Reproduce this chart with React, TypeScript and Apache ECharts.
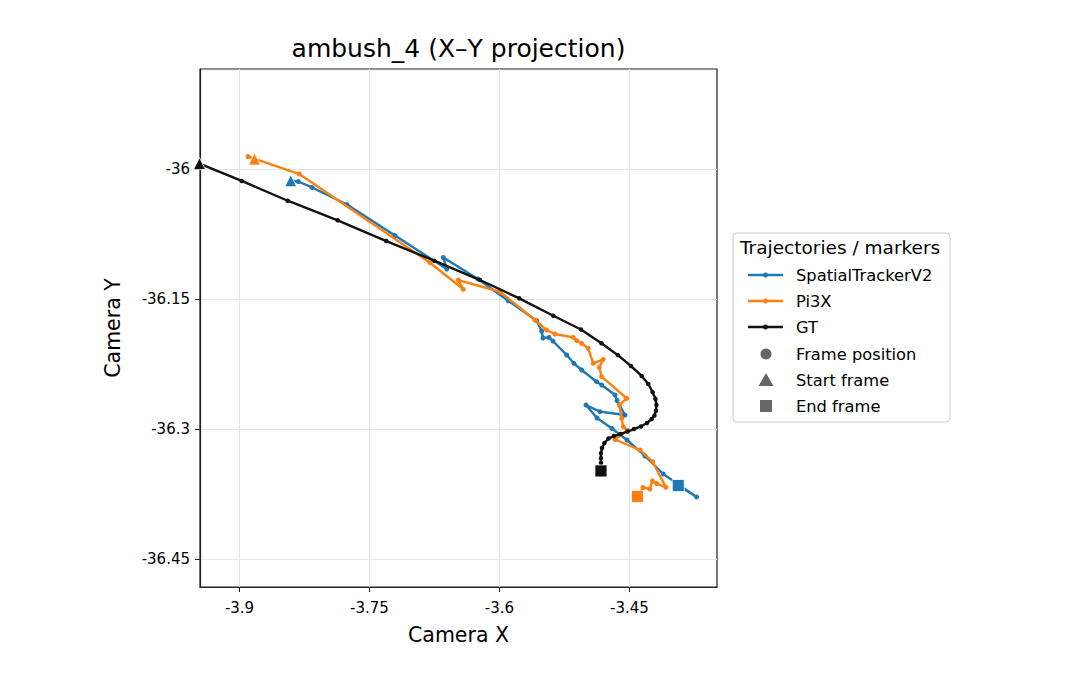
import React, { useEffect, useRef } from "react";
import * as echarts from "echarts";

const FONT = '"DejaVu Sans", "Noto Sans", sans-serif';

// Camera X / Camera Y positions per frame
const spatialTrackerV2: [number, number][] = [
  [-3.8409, -36.0135], [-3.8322, -36.0144], [-3.8163, -36.0213], [-3.776, -36.041],
  [-3.7206, -36.0768], [-3.6609, -36.1154], [-3.6649, -36.1021], [-3.6248, -36.1269],
  [-3.5899, -36.152], [-3.5571, -36.175], [-3.5513, -36.1869], [-3.5498, -36.195],
  [-3.5429, -36.1944], [-3.5383, -36.1985], [-3.5225, -36.2146], [-3.5141, -36.2242],
  [-3.5052, -36.2319], [-3.4879, -36.2454], [-3.4821, -36.2492], [-3.4667, -36.2608],
  [-3.4644, -36.2671], [-3.4552, -36.2838], [-3.4841, -36.28], [-3.5002, -36.2723],
  [-3.4875, -36.2873], [-3.4702, -36.2994], [-3.4529, -36.3127], [-3.4321, -36.3311],
  [-3.411, -36.3519], [-3.3725, -36.3784], [-3.3937, -36.3652],
];

const pi3x: [number, number][] = [
  [-3.8827, -35.9885], [-3.8902, -35.9856], [-3.831, -36.0058], [-3.6802, -36.1081],
  [-3.6418, -36.1388], [-3.6475, -36.1281], [-3.5994, -36.1416], [-3.559, -36.1742],
  [-3.5456, -36.1858], [-3.536, -36.1904], [-3.5149, -36.1942], [-3.5109, -36.1981],
  [-3.5052, -36.2011], [-3.4976, -36.2069], [-3.4918, -36.2242], [-3.4803, -36.2196],
  [-3.4849, -36.2288], [-3.4821, -36.2396], [-3.4532, -36.2646], [-3.4618, -36.2723],
  [-3.459, -36.2876], [-3.4572, -36.2973], [-3.4523, -36.3017], [-3.4667, -36.3121],
  [-3.4379, -36.3242], [-3.4233, -36.3377], [-3.4079, -36.3673], [-3.4186, -36.3629],
  [-3.4235, -36.36], [-3.4264, -36.3692], [-3.4344, -36.3675], [-3.4408, -36.3779],
];

const gt: [number, number][] = [
  [-3.9462, -35.9937], [-3.8975, -36.0138], [-3.8444, -36.0366], [-3.7867, -36.0592],
  [-3.7306, -36.0831], [-3.6752, -36.1058], [-3.6225, -36.1281], [-3.5772, -36.1492],
  [-3.5379, -36.1693], [-3.506, -36.1852], [-3.4823, -36.2011], [-3.4633, -36.2148],
  [-3.4483, -36.2273], [-3.4359, -36.2388], [-3.4283, -36.2481], [-3.4233, -36.2575],
  [-3.42, -36.2654], [-3.4189, -36.2723], [-3.4194, -36.279], [-3.4212, -36.2844],
  [-3.4244, -36.2885], [-3.4298, -36.2931], [-3.4368, -36.2971], [-3.4448, -36.3],
  [-3.4523, -36.3029], [-3.4604, -36.3058], [-3.4679, -36.3081], [-3.4742, -36.311],
  [-3.4789, -36.3161], [-3.4817, -36.3219], [-3.4829, -36.328], [-3.4829, -36.3338],
  [-3.4829, -36.3392], [-3.4829, -36.3438], [-3.4829, -36.3484],
];

const xTicks = [-3.9, -3.75, -3.6, -3.45];
const yTicks = [-36.45, -36.3, -36.15, -36];

const seriesNames = ["SpatialTrackerV2", "Pi3X", "GT"];
const seriesColors = ["#1f77b4", "#ff7f0e", "#111111"];
const markerLabels = ["Frame position", "Start frame", "End frame"];

const fmt = (v: number) => String(Number(v.toFixed(2)));

const X_MIN = -3.9456, X_MAX = -3.349, Y_MIN = -36.4823, Y_MAX = -35.8846;

export default function App() {
  const ref = useRef<HTMLDivElement>(null);
  useEffect(() => {
    if (!ref.current) return;
    const chart = echarts.init(ref.current, undefined, { renderer: "svg" });
    const trajs = [spatialTrackerV2, pi3x, gt];

    const lineSeries = trajs.map((d, i) => ({
      type: "line",
      name: seriesNames[i],
      data: d,
      clip: true,
      symbol: "circle",
      symbolSize: i === 2 ? 4.5 : 5,
      showSymbol: true,
      showAllSymbol: true,
      itemStyle: { color: seriesColors[i], opacity: 1 },
      lineStyle: { color: seriesColors[i], width: 2.4 },
      z: 2 + i,
    }));
    const startSeries = trajs.map((d, i) => ({
      type: "scatter",
      name: seriesNames[i] + " start",
      data: [d[0]],
      symbol: "triangle",
      symbolSize: 12,
      clip: false,
      itemStyle: { color: seriesColors[i], borderColor: "#fff", borderWidth: 0.8, opacity: 1 },
      z: 6,
    }));
    const endSeries = trajs.map((d, i) => ({
      type: "scatter",
      name: seriesNames[i] + " end",
      data: [d[d.length - 1]],
      symbol: "rect",
      symbolSize: 12,
      clip: true,
      itemStyle: { color: seriesColors[i], borderColor: "#fff", borderWidth: 0.8, opacity: 1 },
      z: 6,
    }));

    // legend (drawn)
    const lx = 733, ly = 233;
    const rowY = [275, 301, 327, 354, 380, 406];
    const legendEls: any[] = [
      {
        type: "rect",
        shape: { x: lx, y: ly, width: 217, height: 189, r: 4 },
        style: { fill: "rgba(255,255,255,0.85)", stroke: "#cccccc", lineWidth: 1 },
      },
      {
        type: "text",
        style: {
          text: "Trajectories / markers", x: 740, y: 247, fill: "#000",
          font: `18.5px ${FONT}`, align: "left", verticalAlign: "middle",
          textAlign: "left", textVerticalAlign: "middle",
        },
      },
    ];
    seriesNames.forEach((n, i) => {
      const y = rowY[i];
      legendEls.push(
        { type: "line", shape: { x1: 748, y1: y, x2: 783, y2: y }, style: { stroke: seriesColors[i], lineWidth: 2.5 } },
        { type: "circle", shape: { cx: 765.5, cy: y, r: 2.5 }, style: { fill: seriesColors[i] } },
        {
          type: "text",
          style: {
            text: n, x: 796, y, fill: "#000", font: `16.3px ${FONT}`,
            align: "left", verticalAlign: "middle", textAlign: "left", textVerticalAlign: "middle",
          },
        }
      );
    });
    const gray = "#666666";
    legendEls.push(
      { type: "circle", shape: { cx: 766, cy: rowY[3], r: 5.5 }, style: { fill: gray } },
      { type: "polygon", shape: { points: [[766, rowY[4] - 7], [773.5, rowY[4] + 6], [758.5, rowY[4] + 6]] }, style: { fill: gray } },
      { type: "rect", shape: { x: 760, y: rowY[5] - 6, width: 12, height: 12 }, style: { fill: gray } }
    );
    markerLabels.forEach((m, j) => {
      legendEls.push({
        type: "text",
        style: {
          text: m, x: 796, y: rowY[3 + j], fill: "#000", font: `16.3px ${FONT}`,
          align: "left", verticalAlign: "middle", textAlign: "left", textVerticalAlign: "middle",
        },
      });
    });
    legendEls.push({
      type: "text",
      style: {
        text: "ambush_4 (X\u2013Y projection)", x: 458.5, y: 48, fill: "#000",
        font: `25px ${FONT}`, align: "center", verticalAlign: "middle",
        textAlign: "center", textVerticalAlign: "middle",
      },
    });

    chart.setOption({
      animation: false,
      backgroundColor: "#ffffff",
      grid: {
        left: 200, top: 69, width: 517, height: 518, show: true,
        borderColor: "#222", borderWidth: 1.2, backgroundColor: "transparent",
      },
      xAxis: {
        type: "value",
        min: X_MIN,
        max: X_MAX,
        name: "Camera X",
        nameLocation: "middle",
        nameGap: 37,
        nameTextStyle: { fontSize: 20.5, color: "#000", fontFamily: FONT },
        axisLine: { show: true, lineStyle: { color: "#222", width: 1.2 } },
        axisTick: { show: true, length: 5, lineStyle: { color: "#222", width: 1 }, customValues: xTicks },
        axisLabel: { customValues: xTicks, formatter: fmt, fontSize: 15, color: "#000", fontFamily: FONT, margin: 13 },
        splitLine: { show: true, lineStyle: { color: "#e6e6e6", width: 1 } },
      },
      yAxis: {
        type: "value",
        min: Y_MIN,
        max: Y_MAX,
        name: "Camera Y",
        nameLocation: "middle",
        nameGap: 77,
        nameTextStyle: { fontSize: 20.5, color: "#000", fontFamily: FONT },
        axisLine: { show: true, lineStyle: { color: "#222", width: 1.2 } },
        axisTick: { show: true, length: 5, lineStyle: { color: "#222", width: 1 }, customValues: yTicks },
        axisLabel: { customValues: yTicks, formatter: fmt, fontSize: 15, color: "#000", fontFamily: FONT, margin: 10 },
        splitLine: { show: true, lineStyle: { color: "#e6e6e6", width: 1 } },
      },
      series: [...lineSeries, ...startSeries, ...endSeries],
      graphic: { elements: legendEls },
    });
    return () => chart.dispose();
  }, []);
  return <div ref={ref} style={{ position: "absolute", left: 0, top: 0, width: 1080, height: 690 }} />;
}
